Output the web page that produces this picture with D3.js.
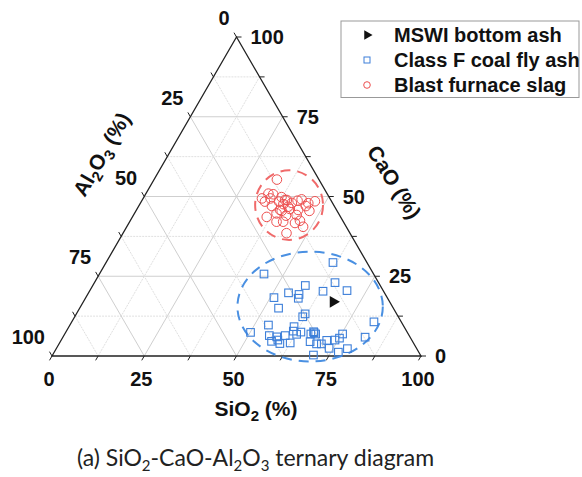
<!DOCTYPE html>
<html>
<head>
<meta charset="utf-8">
<script src="https://cdn.jsdelivr.net/npm/d3@7"></script>
<style>
  body { margin: 0; background: #fff; }
  svg { display: block; }
</style>
</head>
<body>
<svg id="chart" width="582" height="477"></svg>
<script>
// compositions, in % (Al2O3 = 100 - SiO2 - CaO)
const ticks = [0, 25, 50, 75, 100];

const ashSiO2 = [67.7];
const ashCaO = [17.0];

const flyAshSiO2 = [61.5, 44.6, 65.2, 57.6, 69.7, 63.3, 54.2, 57.3, 57.7, 51.0,
  53.9, 62.0, 61.8, 81.9, 50.1, 53.8, 55.7, 57.9, 60.0, 61.0,
  61.5, 62.9, 63.7, 67.1, 68.0, 66.7, 81.9, 75.3, 75.1, 74.2,
  72.0, 71.1, 67.7, 69.8, 62.5, 59.8, 57.2, 58.7, 73.9, 77.0,
  78.9, 70.7, 67.4];
const flyAshCaO = [29.3, 25.7, 23.0, 22.1, 20.5, 20.3, 19.8, 19.3, 18.1, 18.3,
  15.0, 13.2, 12.3, 10.7, 7.4, 9.7, 6.4, 6.0, 6.4, 9.2,
  7.8, 6.8, 7.5, 7.6, 6.9, 6.9, 5.9, 6.9, 5.6, 5.0,
  4.9, 3.8, 4.5, 3.8, 4.1, 3.9, 4.6, 5.0, 2.4, 1.2,
  2.3, 0.3, 7.3];

const slagSiO2 = [33.3, 33.2, 32.2, 34.6, 33.5, 34.5, 37.3, 37.3, 39.2, 41.0,
  43.1, 47.0, 45.5, 42.2, 38.9, 36.1, 38.9, 41.4, 43.8, 45.3,
  47.0, 36.4, 38.5, 41.4, 44.2, 46.0, 39.8, 41.6, 45.0, 47.8,
  44.3, 40.6, 39.5, 38.7];
const slagCaO = [55.3, 50.9, 49.4, 50.7, 48.4, 49.4, 49.8, 48.4, 48.9, 48.0,
  49.1, 48.5, 47.9, 48.7, 47.6, 47.0, 45.8, 46.1, 45.8, 47.0,
  45.5, 43.6, 44.7, 44.0, 44.2, 42.4, 42.1, 42.1, 41.7, 40.5,
  38.5, 46.8, 45.5, 48.9];

// dashed zones: [SiO2, CaO] centre
const flyAshZone = [62.2, 15.5];
const slagZone = [40.6, 47.3];

const legendNames = ["MSWI bottom ash", "Class F coal fly ash", "Blast furnace slag"];

const svg = d3.select("svg#chart");
const blue = "#3d7fd9";
const red = "#ee5050";
const boldFont = "'Liberation Sans', Arial, sans-serif";

// triangle geometry
const triLeft = 52, triRight = 421, triBase = 356, triTop = 37;
const sx = d3.scaleLinear().domain([0, 100]).range([triLeft, triRight]);
const sy = d3.scaleLinear().domain([0, 100]).range([triBase, triTop]);

function px(si, ca) { return sx(si + ca / 2); }
function py(si, ca) { return sy(ca); }

const grid = svg.append("g").attr("id", "grid");
const steps = d3.range(12.5, 100, 12.5);
steps.forEach(function (v) {
  const major = v % 25 === 0;
  const segs = [
    [[0, v], [100 - v, v]],          // CaO constant
    [[v, 0], [v, 100 - v]],          // SiO2 constant
    [[0, 100 - v], [100 - v, 0]]     // Al2O3 constant
  ];
  segs.forEach(function (s) {
    grid.append("line")
      .attr("x1", px(s[0][0], s[0][1]))
      .attr("y1", py(s[0][0], s[0][1]))
      .attr("x2", px(s[1][0], s[1][1]))
      .attr("y2", py(s[1][0], s[1][1]))
      .style("stroke", major ? "#cfcfcf" : "#e0e0e0")
      .style("stroke-width", 1)
      .style("stroke-dasharray", major ? null : "2,1");
  });
});

// frame
const frame = svg.append("g").attr("id", "frame");
frame.append("path")
  .attr("d", `M${px(0, 0)},${py(0, 0)}L${px(100, 0)},${py(100, 0)}L${px(0, 100)},${py(0, 100)}Z`)
  .style("fill", "none")
  .style("stroke", "#222")
  .style("stroke-width", 1.3);

// ticks, extending grid directions outward
const tl = 5;
d3.range(0, 100.1, 12.5).forEach(function (v) {
  // CaO on right edge
  let x = px(100 - v, v), y = py(100 - v, v);
  frame.append("line").attr("x1", x).attr("y1", y).attr("x2", x + tl).attr("y2", y)
    .style("stroke", "#222");
  // SiO2 on bottom edge
  x = px(v, 0); y = py(v, 0);
  frame.append("line").attr("x1", x).attr("y1", y).attr("x2", x - tl * 0.5).attr("y2", y + tl * 0.866)
    .style("stroke", "#222");
  // Al2O3 on left edge
  x = px(0, 100 - v); y = py(0, 100 - v);
  frame.append("line").attr("x1", x).attr("y1", y).attr("x2", x - tl * 0.5).attr("y2", y - tl * 0.866)
    .style("stroke", "#222");
});

const labels = svg.append("g").attr("id", "labels")
  .style("font-family", boldFont)
  .style("font-weight", "bold")
  .style("font-size", "20px")
  .style("fill", "#111");

ticks.forEach(function (v) {
  labels.append("text")
    .attr("x", px(v, 0) - 3)
    .attr("y", py(v, 0) + 23)
    .attr("text-anchor", "middle")
    .attr("dominant-baseline", "central")
    .text(v);
  labels.append("text")
    .attr("x", px(100 - v, v) + 14)
    .attr("y", py(100 - v, v))
    .attr("text-anchor", "start")
    .attr("dominant-baseline", "central")
    .text(v);
  labels.append("text")
    .attr("x", px(0, 100 - v) - 7)
    .attr("y", py(0, 100 - v) - 19)
    .attr("text-anchor", "end")
    .attr("dominant-baseline", "central")
    .text(v);
});

function subTitle(g, parts) {
  const t = g.append("text")
    .attr("text-anchor", "middle")
    .style("font-family", boldFont)
    .style("font-weight", "bold")
    .style("font-size", "21px")
    .style("fill", "#111");
  parts.forEach(function (p) {
    t.append("tspan")
      .attr("dy", p[1] ? 5 : (p[2] ? -5 : 0))
      .style("font-size", p[1] ? "15px" : null)
      .text(p[0]);
  });
  return t;
}

subTitle(svg.append("g").attr("transform", "translate(256,416)"),
  [["SiO"], ["2", true], [" (%)", false, true]]);
subTitle(svg.append("g").attr("transform", "translate(388,186) rotate(58)"),
  [["CaO (%)"]]);
subTitle(svg.append("g").attr("transform", "translate(108,158) rotate(-60)"),
  [["Al"], ["2", true], ["O", false, true], ["3", true], [" (%)", false, true]]);

// dashed zones
const zones = svg.append("g").attr("id", "zones").style("fill", "none")
  .style("stroke-width", 2).style("stroke-dasharray", "10,7");
zones.append("ellipse")
  .attr("cx", px(flyAshZone[0], flyAshZone[1]))
  .attr("cy", py(flyAshZone[0], flyAshZone[1]))
  .attr("rx", sx(19.7) - sx(0))
  .attr("ry", sy(0) - sy(17.2))
  .style("stroke", "#4a90e2");
zones.append("ellipse")
  .attr("cx", px(slagZone[0], slagZone[1]))
  .attr("cy", py(slagZone[0], slagZone[1]))
  .attr("rx", sx(9.2) - sx(0))
  .attr("ry", sy(0) - sy(10.9))
  .style("stroke", "#f06a6a");

// points
const pts = svg.append("g").attr("id", "points");
slagSiO2.forEach(function (si, i) {
  pts.append("circle")
    .attr("cx", px(si, slagCaO[i]))
    .attr("cy", py(si, slagCaO[i]))
    .attr("r", 4.8)
    .style("fill", "none")
    .style("stroke", red)
    .style("stroke-width", 1);
});
flyAshSiO2.forEach(function (si, i) {
  pts.append("rect")
    .attr("x", px(si, flyAshCaO[i]) - 3.8)
    .attr("y", py(si, flyAshCaO[i]) - 3.8)
    .attr("width", 7.6)
    .attr("height", 7.6)
    .style("fill", "none")
    .style("stroke", blue)
    .style("stroke-width", 1.1);
});
const tri = d3.symbol().type(d3.symbolTriangle).size(60);
ashSiO2.forEach(function (si, i) {
  pts.append("path")
    .attr("d", tri())
    .attr("transform", `translate(${px(si, ashCaO[i])},${py(si, ashCaO[i])}) rotate(90)`)
    .style("fill", "#111");
});

// legend
const legend = svg.append("g").attr("id", "legend");
legend.append("rect")
  .attr("x", 341).attr("y", 21).attr("width", 238).attr("height", 76.5)
  .style("fill", "#fff").style("stroke", "#999").style("stroke-width", 1);
legendNames.forEach(function (name, i) {
  const cy = 35 + i * 25;
  if (i === 0) {
    legend.append("path").attr("d", d3.symbol().type(d3.symbolTriangle).size(40)())
      .attr("transform", `translate(367,${cy}) rotate(90)`).style("fill", "#111");
  } else if (i === 1) {
    legend.append("rect").attr("x", 364).attr("y", cy - 3).attr("width", 6).attr("height", 6)
      .style("fill", "none").style("stroke", blue);
  } else {
    legend.append("circle").attr("cx", 367).attr("cy", cy).attr("r", 3.3)
      .style("fill", "none").style("stroke", red);
  }
  legend.append("text")
    .attr("x", 394).attr("y", cy)
    .attr("dominant-baseline", "central")
    .style("font-family", boldFont)
    .style("font-weight", "bold")
    .style("font-size", "20px")
    .style("fill", "#111")
    .text(name);
});

// caption
const cap = svg.append("text")
  .attr("x", 77).attr("y", 466)
  .style("font-family", "Lato, 'Open Sans', sans-serif")
  .style("font-size", "23px")
  .style("fill", "#222");
[["(a) SiO"], ["2", 1], ["-CaO-Al", -1], ["2", 1], ["O", -1], ["3", 1], [" ternary diagram", -1]]
  .forEach(function (p) {
    cap.append("tspan")
      .attr("dy", p[1] ? p[1] * 5 : 0)
      .style("font-size", p[1] === 1 ? "15px" : null)
      .text(p[0]);
  });
</script>
</body>
</html>
